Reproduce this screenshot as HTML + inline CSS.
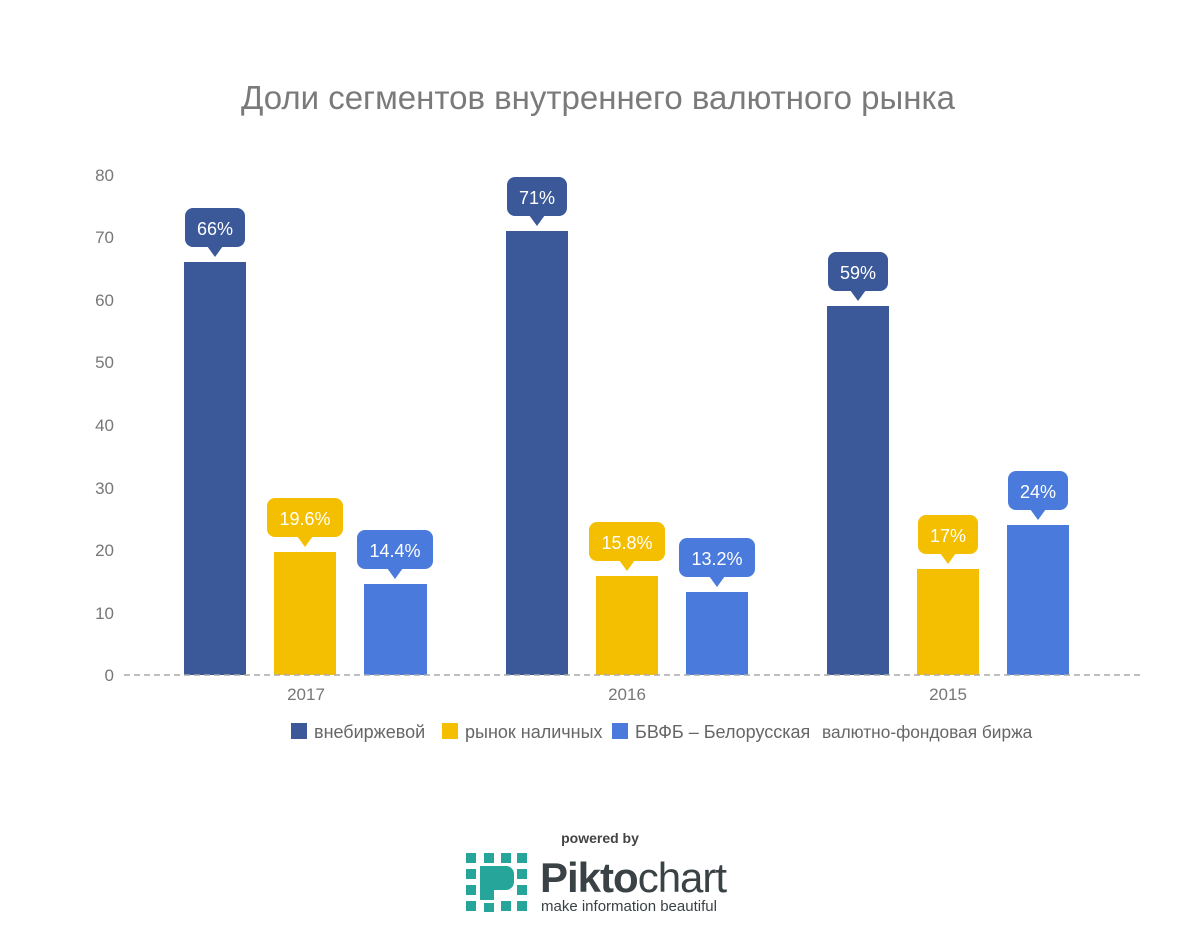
<!DOCTYPE html>
<html><head><meta charset="utf-8"><style>body{margin:0;background:#fff}svg{display:block}</style></head><body>
<svg width="1200" height="933" xmlns="http://www.w3.org/2000/svg" font-family="Liberation Sans, sans-serif">
<text x="598" y="109" text-anchor="middle" font-size="33" fill="#7a7a7a">Доли сегментов внутреннего валютного рынка</text>
<g font-size="17" fill="#777" text-anchor="end">
<text x="114" y="181">80</text><text x="114" y="243">70</text><text x="114" y="306">60</text><text x="114" y="368">50</text><text x="114" y="431">40</text><text x="114" y="494">30</text><text x="114" y="556">20</text><text x="114" y="619">10</text><text x="114" y="681">0</text>
</g>
<g id="bars">
<rect x="184" y="262" width="62" height="413" fill="#3b5998"/>
<rect x="274" y="552" width="62" height="123" fill="#f4bf00"/>
<rect x="364" y="584" width="63" height="91" fill="#4a7bdc"/>
<rect x="506" y="231" width="62" height="444" fill="#3b5998"/>
<rect x="596" y="576" width="62" height="99" fill="#f4bf00"/>
<rect x="686" y="592" width="62" height="83" fill="#4a7bdc"/>
<rect x="827" y="306" width="62" height="369" fill="#3b5998"/>
<rect x="917" y="569" width="62" height="106" fill="#f4bf00"/>
<rect x="1007" y="525" width="62" height="150" fill="#4a7bdc"/>
</g>
<line x1="124" y1="675" x2="1140" y2="675" stroke="#aaa" stroke-width="1.5" stroke-dasharray="6,4"/>
<g font-size="17" fill="#777" text-anchor="middle">
<text x="306" y="700">2017</text><text x="627" y="700">2016</text><text x="948" y="700">2015</text>
</g>
<g font-size="18" fill="#fff" text-anchor="middle">
<g fill="#3b5998"><rect x="185" y="208" width="60" height="39" rx="8"/><path d="M207 246 L215 257 L223 246Z"/></g><text x="215" y="235">66%</text>
<g fill="#f4bf00"><rect x="267" y="498" width="76" height="39" rx="8"/><path d="M297 536 L305 547 L313 536Z"/></g><text x="305" y="525">19.6%</text>
<g fill="#4a7bdc"><rect x="357" y="530" width="76" height="39" rx="8"/><path d="M387 568 L395 579 L403 568Z"/></g><text x="395" y="557">14.4%</text>
<g fill="#3b5998"><rect x="507" y="177" width="60" height="39" rx="8"/><path d="M529 215 L537 226 L545 215Z"/></g><text x="537" y="204">71%</text>
<g fill="#f4bf00"><rect x="589" y="522" width="76" height="39" rx="8"/><path d="M619 560 L627 571 L635 560Z"/></g><text x="627" y="549">15.8%</text>
<g fill="#4a7bdc"><rect x="679" y="538" width="76" height="39" rx="8"/><path d="M709 576 L717 587 L725 576Z"/></g><text x="717" y="565">13.2%</text>
<g fill="#3b5998"><rect x="828" y="252" width="60" height="39" rx="8"/><path d="M850 290 L858 301 L866 290Z"/></g><text x="858" y="279">59%</text>
<g fill="#f4bf00"><rect x="918" y="515" width="60" height="39" rx="8"/><path d="M940 553 L948 564 L956 553Z"/></g><text x="948" y="542">17%</text>
<g fill="#4a7bdc"><rect x="1008" y="471" width="60" height="39" rx="8"/><path d="M1030 509 L1038 520 L1046 509Z"/></g><text x="1038" y="498">24%</text>
</g>
<g font-size="18" fill="#666">
<rect x="291" y="723" width="16" height="16" fill="#3b5998"/><text x="314" y="738">внебиржевой</text>
<rect x="442" y="723" width="16" height="16" fill="#f4bf00"/><text x="465" y="738">рынок наличных</text>
<rect x="612" y="723" width="16" height="16" fill="#4a7bdc"/><text x="635" y="738">БВФБ – Белорусская</text>
<text x="822" y="738" font-size="17.3">валютно-фондовая биржа</text>
</g>
<text x="600" y="843" text-anchor="middle" font-size="14" font-weight="bold" fill="#444">powered by</text>
<g fill="#26a69a">
<rect x="466" y="853" width="10" height="10"/><rect x="484" y="853" width="10" height="10"/><rect x="501" y="853" width="10" height="10"/><rect x="517" y="853" width="10" height="10"/>
<rect x="466" y="869" width="10" height="10"/><rect x="517" y="869" width="10" height="10"/>
<rect x="466" y="885" width="10" height="10"/><rect x="517" y="885" width="10" height="10"/>
<rect x="466" y="901" width="10" height="10"/><rect x="484" y="903" width="10" height="9"/><rect x="501" y="901" width="10" height="10"/><rect x="517" y="901" width="10" height="10"/>
<path d="M480 866 h26 a8 8 0 0 1 8 8 v8 a8 8 0 0 1 -8 8 h-12 v10 h-14z" fill="#26a69a"/>
</g>
<text x="540" y="892" font-size="42" fill="#3a4246" font-weight="bold" letter-spacing="-1">Pikto<tspan font-weight="normal">chart</tspan></text>
<text x="541" y="911" font-size="15" fill="#3a4246">make information beautiful</text>
</svg>
</body></html>
